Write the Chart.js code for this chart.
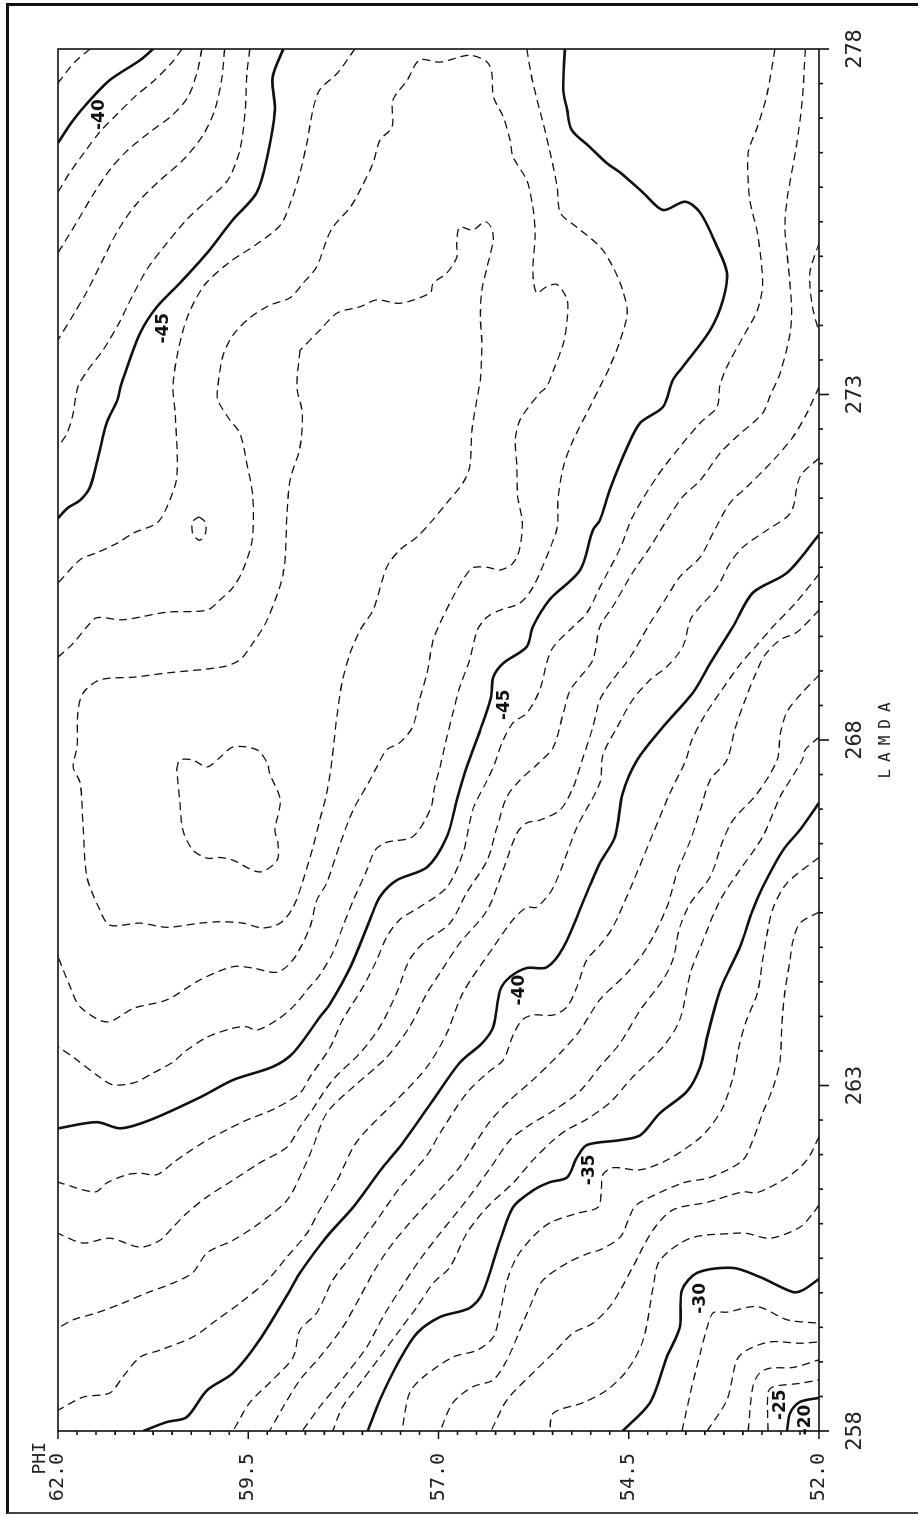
<!DOCTYPE html>
<html>
<head>
<meta charset="utf-8">
<script src="https://cdn.jsdelivr.net/npm/chart.js@4.4.0/dist/chart.umd.min.js"></script>
<style>
html,body{margin:0;padding:0;background:#fff;overflow:hidden;}
#page{position:relative;width:924px;height:1516px;overflow:hidden;background:#fff;}
#wrap{position:absolute;left:0;top:0;width:1516px;height:924px;transform-origin:0 0;transform:translate(0,1516px) rotate(-90deg);}
#frame{position:absolute;left:6px;top:3px;width:912px;height:1511px;box-sizing:border-box;border-left:3px solid #111;border-top:3px solid #111;border-bottom:2px solid #444;}
</style>
</head>
<body>
<div id="page">
  <div id="wrap"><canvas id="c" width="1516" height="924"></canvas></div>
  <div id="frame"></div>
</div>
<script>
// axis tick labels
const lamLabels = [258, 263, 268, 273, 278];
const phiLabels = [52.0, 54.5, 57.0, 59.5, 62.0];

// contour lines, [LAMDA, PHI] pairs
const c39a = [[278,61.58],[277.81,61.78],[277.51,62]];
const c40a = [[278,60.75],[277.84,60.92],[277.55,61.32],[277.26,61.58],[276.97,61.8],[276.64,62]];
const c41a = [[278,60.37],[277.81,60.5],[277.55,60.73],[277.31,60.99],[277.07,61.21],[276.8,61.45],[276.51,61.65],[276.22,61.84],[275.93,62]];
const c42a = [[278,60.11],[277.67,60.17],[277.31,60.29],[277.04,60.5],[276.8,60.79],[276.54,61.08],[276.25,61.32],[275.89,61.54],[275.5,61.75],[275.05,62]];
const c43a = [[278,59.81],[277.55,59.85],[277.12,59.94],[276.76,60.09],[276.39,60.36],[276.1,60.66],[275.77,60.96],[275.38,61.21],[274.95,61.41],[274.51,61.61],[274.15,61.8],[273.79,62]];
const c44a = [[278,59.48],[277.62,59.52],[277.12,59.54],[276.54,59.61],[276.1,59.77],[275.82,60.03],[275.53,60.31],[275.19,60.57],[274.83,60.82],[274.41,61.03],[274.01,61.21],[273.64,61.41],[273.35,61.61],[273.11,61.74],[272.73,61.8],[272.44,61.88],[272.24,62]];
const c45a = [[278,59.04],[277.59,59.18],[277.12,59.15],[276.44,59.25],[275.92,59.39],[275.53,59.7],[275.05,60.04],[274.61,60.4],[274.27,60.7],[273.89,60.92],[273.4,61.09],[273.11,61.18],[272.92,61.22],[272.59,61.36],[272.1,61.47],[271.66,61.58],[271.47,61.71],[271.36,61.87],[271.21,62]];
const c46a = [[278,58.1],[277.65,58.33],[277.41,58.56],[277.12,58.65],[276.64,58.73],[276.21,58.82],[275.82,58.93],[275.45,59.08],[275.16,59.41],[274.92,59.74],[274.59,60.07],[274.15,60.29],[273.64,60.42],[273.11,60.49],[272.73,60.46],[271.81,60.44],[271.37,60.57],[271.14,60.7],[271,61],[270.85,61.22],[270.71,61.49],[270.61,61.71],[270.27,62]];
const c47a = [[269.2,62],[269.4,61.8],[269.64,61.62],[269.77,61.49],[269.74,61.15],[269.85,60.57],[269.88,60.04],[270.03,59.87],[270.21,59.7],[270.46,59.57],[270.89,59.45],[271.52,59.44],[272.01,59.52],[272.44,59.61],[272.63,59.74],[272.92,59.9],[273.11,59.9],[273.57,59.83],[273.86,59.7],[274.11,59.48],[274.29,59.22],[274.4,58.95],[274.61,58.78],[274.85,58.6],[275.24,58.47],[275.42,58.39],[275.71,58.16],[275.96,58.03],[276.35,57.86],[276.68,57.77],[276.87,57.61],[277.26,57.6],[277.55,57.41],[277.84,57.25],[277.81,56.98],[277.91,56.59],[277.81,56.36],[277.65,56.3],[277.31,56.28],[277.02,56.15],[276.68,56.06],[276.44,56.02],[276.1,55.84],[275.71,55.76],[275.34,55.73],[274.76,55.76],[274.47,55.71],[274.56,55.58],[274.59,55.44],[274.37,55.31],[274.08,55.31],[273.74,55.36],[273.35,55.49],[273.11,55.58],[273.02,55.67],[272.63,55.93],[272.34,55.99],[271.95,55.97],[271.52,55.96],[271.18,55.9],[270.79,55.93],[270.56,56.02],[270.46,56.19],[270.5,56.36],[270.49,56.55],[270.32,56.68],[270.07,56.81],[269.69,56.98],[269.45,57.07],[268.97,57.15],[268.58,57.25],[268.19,57.34],[267.96,57.51],[267.86,57.68],[267.61,57.81],[267.42,57.9],[266.99,58.12],[266.51,58.29],[265.93,58.47],[265.68,58.6],[265.29,58.69],[264.82,58.91],[264.64,59.12],[264.7,59.44],[264.72,59.7],[264.53,60.13],[264.24,60.57],[264.12,61],[263.92,61.36],[264.14,61.71],[264.43,61.84],[264.86,62]];
const c47b = [[271.23,60.15],[271.16,60.07],[271,60.06],[270.89,60.14],[270.99,60.23],[271.16,60.23],[271.23,60.15]];
const c48a = [[273.64,58.82],[273.11,58.86],[272.73,58.79],[272.24,58.82],[271.76,58.95],[271.28,58.99],[270.42,59.04],[269.74,59.25],[269.4,59.44],[269.16,59.61],[269.06,59.83],[268.97,60.57],[268.91,61],[268.87,61.45],[268.68,61.67],[268.39,61.74],[267.9,61.75],[267.61,61.8],[267.38,61.71],[266.74,61.67],[266.02,61.62],[265.54,61.45],[265.32,61.32],[265.35,60.92],[265.29,60.57],[265.35,60.13],[265.37,59.87],[265.35,59.57],[265.28,59.31],[265.35,59.08],[265.58,58.91],[265.97,58.78],[266.45,58.65],[266.84,58.56],[267.23,58.47],[267.71,58.4],[268.39,58.33],[268.87,58.26],[269.26,58.16],[269.59,58.03],[269.88,57.86],[270.5,57.68],[270.75,57.51],[270.94,57.28],[271.14,57.11],[271.43,56.89],[271.72,56.68],[271.95,56.59],[272.49,56.56],[272.96,56.49],[273.21,56.45],[273.74,56.43],[274.12,56.45],[274.51,56.43],[274.85,56.36],[275.24,56.28],[275.42,56.31],[275.5,56.39],[275.38,56.55],[275.42,56.72],[275.19,56.76],[274.99,56.76],[274.76,56.89],[274.61,57.07],[274.47,57.11],[274.32,57.51],[274.37,57.81],[274.27,58.03],[274.18,58.33],[273.93,58.56],[273.64,58.82]];
const c49a = [[267.57,60.44],[267.71,60.4],[267.71,60.23],[267.61,60.04],[267.75,59.87],[267.9,59.7],[267.86,59.39],[267.67,59.25],[267.52,59.22],[267.13,59.08],[266.7,59.15],[266.51,59.11],[266.26,59.12],[266.09,59.35],[266.26,59.7],[266.3,59.87],[266.29,60.04],[266.41,60.23],[266.7,60.36],[267.13,60.4],[267.57,60.44]];
const c46b = [[278,55.84],[277.51,55.76],[277.12,55.67],[276.54,55.54],[276,55.44],[275.63,55.4],[275.42,55.18],[275.14,54.88],[274.85,54.71],[274.51,54.58],[274.18,54.52],[273.79,54.61],[273.4,54.75],[273.11,54.88],[272.82,55.01],[272.34,55.23],[271.95,55.36],[271.47,55.43],[271.08,55.44],[270.65,55.58],[270.21,55.76],[269.98,55.93],[269.88,56.19],[269.78,56.36],[269.59,56.49],[269.16,56.59],[268.77,56.72],[268.39,56.81],[268.04,56.89],[267.61,56.98],[267.32,57.05],[266.99,57.11],[266.6,57.34],[266.52,57.68],[266.41,57.83],[266.12,57.94],[265.68,58.12],[265.29,58.26],[264.92,58.39],[264.6,58.56],[264.43,58.69],[264.14,58.91],[263.95,59.12],[263.8,59.39],[263.85,59.52],[263.83,59.7],[263.7,60.04],[263.51,60.31],[263.34,60.49],[263.18,60.75],[263.04,61],[263.01,61.28],[263.12,61.45],[263.41,61.8],[263.56,62]];
const c45b = [[278,55.34],[277.41,55.36],[277.12,55.31],[276.83,55.25],[276.58,55.01],[276.35,54.79],[276.21,54.61],[275.92,54.31],[275.67,54.05],[275.79,53.76],[275.63,53.56],[275.14,53.34],[274.76,53.21],[274.37,53.26],[273.93,53.43],[273.4,53.79],[273.21,53.92],[272.82,54.05],[272.59,54.35],[272.24,54.52],[271.62,54.75],[271.18,54.88],[271.04,54.97],[270.46,55.14],[270.03,55.54],[269.64,55.76],[269.35,55.84],[269.11,56.15],[268.91,56.28],[268.62,56.31],[268.15,56.45],[267.61,56.63],[267.13,56.76],[266.6,56.89],[266.16,57.15],[265.97,57.55],[265.73,57.77],[265.4,57.9],[264.71,58.16],[264.19,58.42],[263.99,58.56],[263.47,58.91],[263.27,59.18],[263.08,59.7],[262.83,60.13],[262.5,60.79],[262.38,61.18],[262.47,61.49],[262.38,62]];
const c44b = [[278,52.58],[277.36,52.68],[276.87,52.81],[276.5,52.93],[275.82,52.91],[275.34,52.81],[274.61,52.74],[274.22,52.81],[273.83,53],[273.4,53.21],[273.14,53.3],[272.82,53.34],[272.59,53.56],[272.24,53.83],[271.81,54.13],[271.23,54.45],[270.78,54.61],[270.21,54.88],[269.84,55.05],[269.64,55.23],[269.35,55.49],[269.11,55.58],[268.72,55.67],[268.39,55.84],[268.25,56.02],[268,56.15],[267.61,56.28],[267.42,56.36],[266.99,56.55],[266.36,56.68],[265.87,56.89],[265.58,57.25],[265.4,57.51],[265.15,57.68],[264.82,57.81],[264.43,57.99],[263.95,58.26],[263.56,58.42],[263.12,58.69],[262.89,58.82],[262.65,59.18],[262.5,59.52],[262.36,59.78],[262.21,60.04],[262.02,60.31],[261.88,60.49],[261.71,60.7],[261.73,60.92],[261.71,61.09],[261.59,61.36],[261.46,61.51],[261.6,62]];
const c43b = [[278,52.18],[277.26,52.22],[276.64,52.29],[275.82,52.42],[275.42,52.45],[275.05,52.42],[274.27,52.36],[273.89,52.38],[273.31,52.51],[272.99,52.64],[272.73,52.74],[272.39,53.08],[272.15,53.3],[271.76,53.56],[271.52,53.79],[271.18,54],[270.79,54.22],[270.42,54.45],[269.93,54.71],[269.64,54.88],[269.16,54.97],[268.91,55.14],[268.72,55.27],[268.39,55.36],[267.9,55.49],[267.64,55.71],[267.42,55.93],[267.18,56.1],[266.74,56.23],[266.26,56.36],[265.79,56.63],[265.35,56.85],[265.06,57.2],[264.82,57.38],[264.34,57.55],[263.85,57.77],[263.47,58.03],[263.08,58.39],[262.6,58.69],[262.4,58.82],[262.11,58.99],[261.88,59.35],[261.63,59.7],[261.39,60.04],[261.15,60.31],[260.95,60.49],[260.76,60.66],[260.66,60.92],[260.79,61.32],[260.72,61.67],[260.86,62]];
const c42b = [[275.19,52],[274.76,52.12],[274.29,52.09],[273.9,52]];
const c42c = [[273.11,52],[272.73,52.16],[272.39,52.34],[272.05,52.6],[271.66,52.95],[271.43,53.17],[271,53.39],[270.65,53.56],[270.36,53.83],[270.07,54],[269.69,54.22],[269.2,54.48],[268.87,54.71],[268.58,54.88],[268.19,54.97],[267.75,55.1],[267.32,55.23],[266.99,55.4],[266.84,55.67],[266.8,55.84],[266.65,55.97],[266.12,56.15],[265.54,56.36],[265.06,56.72],[264.63,56.98],[264.34,57.15],[263.85,57.38],[263.41,57.68],[262.98,58.12],[262.6,58.47],[262.11,58.65],[261.78,58.78],[261.34,58.99],[261.01,59.35],[260.76,59.7],[260.58,60.04],[260.29,60.23],[260.14,60.49],[260,60.83],[259.85,61.15],[259.71,61.49],[259.61,61.8],[259.49,62]];
const c41b = [[272.08,52],[271.81,52.25],[271.37,52.34],[271.23,52.42],[271.04,52.68],[270.79,53],[270.56,53.17],[270.21,53.34],[269.88,53.6],[269.74,53.69],[269.35,53.79],[269.06,54],[268.87,54.22],[268.58,54.45],[268.19,54.65],[267.78,54.84],[267.38,54.88],[266.74,55.18],[265.87,55.49],[265.58,55.71],[265.58,55.84],[265.4,56.02],[265,56.28],[264.34,56.68],[263.76,56.89],[263.27,57.15],[262.79,57.55],[262.36,57.94],[262.11,58.12],[261.63,58.33],[261.2,58.56],[260.86,58.73],[260.52,58.99],[260.18,59.25],[259.85,59.61],[259.61,59.91],[259.36,60.23],[259.17,60.66],[259.07,60.92],[258.78,61.15],[258.55,61.32],[258.49,61.67],[258.3,62]];
const c40b = [[270.97,52],[270.42,52.42],[270.13,52.87],[269.64,53.13],[269.11,53.43],[268.68,53.66],[268.19,54.05],[267.71,54.39],[267.23,54.58],[266.6,54.68],[266.22,54.88],[265.79,55.05],[265,55.36],[264.71,55.58],[264.7,55.84],[264.57,56.06],[264.38,56.19],[263.85,56.28],[263.62,56.42],[263.33,56.72],[262.79,57.07],[262.11,57.51],[261.82,57.73],[261.24,58.12],[260.81,58.47],[260.29,58.82],[260.04,58.95],[259.32,59.35],[258.84,59.7],[258.59,60.04],[258.2,60.31],[258.13,60.57],[258,60.88]];
const c39b = [[270.4,52],[269.98,52.31],[269.67,52.58],[269.38,52.81],[269.09,53.04],[268.72,53.28],[268.36,53.5],[268,53.67],[267.71,53.75],[267.23,53.96],[266.65,54.18],[265.93,54.45],[265.29,54.71],[265.03,54.88],[264.82,55.05],[264.43,55.18],[264.14,55.31],[264.02,55.49],[264.02,55.76],[263.95,55.9],[263.73,56.02],[263.37,56.15],[263.18,56.36],[262.89,56.63],[262.31,56.98],[261.99,57.15],[261.52,57.51],[261.05,57.81],[260.52,58.16],[260.18,58.39],[259.71,58.6],[259.46,58.82],[259.07,58.91],[258.74,59.18],[258.41,59.48],[258,59.7]];
const c38b = [[269.88,52],[269.56,52.29],[269.45,52.51],[269.23,52.71],[268.94,52.84],[268.58,52.97],[268.18,53.1],[267.71,53.21],[267.42,53.43],[266.99,53.56],[266.55,53.69],[266.07,53.87],[265.58,54],[265,54.26],[264.63,54.52],[264.24,54.88],[263.8,55.14],[263.47,55.4],[263.08,55.76],[262.79,56.06],[262.5,56.31],[262.21,56.49],[261.82,56.72],[261.39,57.07],[261.01,57.38],[260.66,57.64],[260.29,57.86],[259.94,58.03],[259.5,58.26],[259.07,58.56],[258.74,58.82],[258.35,59.04],[258,59.22]];
const c37b = [[268.94,52],[268.65,52.25],[268.41,52.42],[268.07,52.51],[267.71,52.55],[267.23,52.81],[266.84,53.13],[266.55,53.26],[266.02,53.43],[265.64,53.69],[265.29,53.83],[264.82,53.92],[264.53,54.05],[264.09,54.35],[263.62,54.61],[263.27,54.88],[262.92,55.14],[262.65,55.47],[262.43,55.8],[262.21,56.06],[261.82,56.31],[261.34,56.63],[260.86,56.98],[260.47,57.25],[260.04,57.51],[259.65,57.73],[259.22,57.94],[258.84,58.2],[258.35,58.56],[258,58.79]];
const c36b = [[268.04,52],[267.86,52.18],[267.71,52.22],[267.18,52.51],[266.6,52.74],[266.12,53.04],[265.68,53.3],[265,53.56],[264.63,53.69],[263.95,53.83],[263.56,54.05],[263.12,54.45],[262.75,54.75],[262.5,55.07],[262.36,55.31],[262.21,55.49],[261.92,55.76],[261.59,56.02],[261.24,56.36],[260.86,56.63],[260.37,56.85],[260.14,57.07],[259.8,57.28],[259.46,57.51],[259.07,57.77],[258.69,58.03],[258.35,58.26],[258,58.39]];
const c35b = [[267.09,52],[266.7,52.25],[266.41,52.47],[265.87,52.74],[265.54,52.87],[265,53.04],[264.49,53.26],[264.24,53.34],[263.7,53.47],[263.27,53.56],[262.92,53.73],[262.6,54.09],[262.28,54.35],[262.21,54.61],[262.14,55.05],[261.96,55.18],[261.67,55.31],[261.6,55.54],[261.48,55.76],[261.24,56.02],[260.76,56.19],[260,56.42],[259.78,56.59],[259.65,56.98],[259.42,57.28],[259.03,57.51],[258.45,57.77],[258,57.93]];
const c34b = [[266.3,52],[265.93,52.42],[265.58,52.6],[265.21,52.68],[264.82,52.74],[264.34,52.81],[263.95,52.95],[263.62,53.04],[263.12,53.13],[262.69,53.26],[262.4,53.43],[262.21,53.6],[261.92,54],[261.78,54.35],[261.81,54.71],[261.71,54.84],[261.49,54.86],[261.24,54.9],[261.15,55.18],[261.01,55.54],[260.81,55.76],[260.52,55.97],[260.18,56.1],[259.71,56.19],[259.36,56.28],[259.17,56.49],[259.07,56.81],[258.78,57.2],[258.55,57.38],[258,57.48]];
const c33b = [[265.51,52],[265.35,52.25],[265.1,52.34],[264.82,52.38],[264.34,52.45],[263.85,52.49],[263.37,52.51],[262.98,52.6],[262.6,52.74],[262.21,52.87],[261.92,53],[261.67,53.43],[261.59,53.79],[261.31,54.35],[261.2,54.45],[260.81,54.61],[260.62,54.88],[260.58,55.01],[260.43,55.31],[260.18,55.63],[259.9,55.76],[259.46,55.93],[259.03,56.1],[258.74,56.28],[258.64,56.55],[258.41,56.81],[258,56.98]];
const c32b = [[262.26,52],[261.92,52.16],[261.67,52.42],[261.45,52.81],[261.46,53],[261.31,53.47],[261.2,53.92],[260.91,54.18],[260.37,54.45],[260.04,54.61],[259.8,54.75],[259.56,54.97],[259.42,55.23],[259.13,55.49],[258.84,55.76],[258.45,56.1],[258,56.31]];
const c31b = [[261.27,52],[261.15,52.08],[260.95,52.25],[260.79,52.64],[260.86,52.95],[260.86,53.13],[260.79,53.69],[260.47,54.09],[260.08,54.18],[259.32,54.31],[258.88,54.52],[258.59,54.79],[258.41,55.1],[258.26,55.49],[258,55.54]];
const c30b = [[258,54.58],[258.41,54.22],[259.07,54],[259.5,53.83],[260.04,53.8],[260.29,53.6],[260.36,53.13],[260.23,52.78],[260.01,52.34],[260.04,52.21],[260.2,52]];
const c29b = [[258,53.8],[258.55,53.69],[259.13,53.56],[259.5,53.47],[259.71,53.39],[259.72,53.21],[259.8,52.81],[259.61,52.42],[259.56,52]];
const c28b = [[258,53.47],[258.45,53.21],[259.03,53.08],[259.17,52.95],[259.29,52.64],[259.27,52.25],[259.29,52]];
const c27b = [[258,52.93],[258.64,52.87],[258.84,52.78],[258.91,52.64],[258.92,52.34],[259.03,52]];
const c26b = [[258,52.67],[258.55,52.67],[258.64,52.6],[258.69,52.25],[258.74,52]];
const c25b = [[258,52.42],[258.26,52.38],[258.42,52.25],[258.48,52]];

// contour value labels
const labelText = ['-40', '-45', '-45', '-40', '-35', '-30', '-25', '-20'];
const labelLam = [277.05, 273.96, 268.51, 264.38, 261.78, 259.92, 258.38, 258.16];
const labelPhi = [61.46, 60.61, 56.13, 55.93, 55.01, 53.56, 52.51, 52.17];

const contours = [
  [-39, c39a], [-40, c40a], [-41, c41a], [-42, c42a], [-43, c43a], [-44, c44a], [-45, c45a], [-46, c46a],
  [-47, c47a], [-47, c47b], [-48, c48a], [-49, c49a],
  [-46, c46b], [-45, c45b], [-44, c44b], [-43, c43b], [-42, c42b], [-42, c42c], [-41, c41b], [-40, c40b],
  [-39, c39b], [-38, c38b], [-37, c37b], [-36, c36b], [-35, c35b], [-34, c34b], [-33, c33b], [-32, c32b],
  [-31, c31b], [-30, c30b], [-29, c29b], [-28, c28b], [-27, c27b], [-26, c26b], [-25, c25b]
];

const datasets = contours.map(([lev, pts]) => {
  const major = lev % 5 === 0;
  return {
    label: String(lev),
    data: pts.map(p => ({x: p[0], y: p[1]})),
    showLine: true,
    pointRadius: 0,
    borderColor: '#111',
    borderWidth: major ? 2.6 : 1.3,
    borderDash: major ? [] : [8, 5],
    tension: 0.3,
    fill: false
  };
});

const decor = {
  id: 'decor',
  afterDatasetsDraw(chart) {
    const {ctx, chartArea: ca, scales: {x, y}} = chart;
    ctx.save();
    ctx.strokeStyle = '#111';
    ctx.lineWidth = 1.6;
    ctx.strokeRect(ca.left, ca.top, ca.right - ca.left, ca.bottom - ca.top);
    ctx.beginPath();
    x.ticks.forEach(t => {
      const px = x.getPixelForValue(t.value);
      const len = lamLabels.includes(t.value) ? 10 : 4;
      ctx.moveTo(px, ca.bottom); ctx.lineTo(px, ca.bottom + len);
    });
    y.ticks.forEach(t => {
      const py = y.getPixelForValue(t.value);
      const len = phiLabels.includes(t.value) ? 8 : 4;
      ctx.moveTo(ca.left, py); ctx.lineTo(ca.left - len, py);
    });
    ctx.stroke();

    ctx.fillStyle = '#111';
    ctx.textAlign = 'center';
    ctx.textBaseline = 'middle';
    ctx.font = 'bold 17px "DejaVu Sans"';
    labelText.forEach((t, i) => {
      ctx.fillText(t, x.getPixelForValue(labelLam[i]), y.getPixelForValue(labelPhi[i]));
    });

    ctx.fillStyle = '#222';
    ctx.font = '16px "DejaVu Sans Mono"';
    ctx.letterSpacing = '7px';
    ctx.fillText('LAMDA', (ca.left + ca.right) / 2 + 3, 886);
    ctx.letterSpacing = '0px';
    ctx.textAlign = 'right';
    ctx.font = '18px "DejaVu Sans Mono"';
    ctx.fillText('PHI', 74, 40);
    ctx.restore();
  }
};

new Chart(document.getElementById('c'), {
  type: 'scatter',
  data: {datasets},
  options: {
    responsive: false,
    animation: false,
    events: [],
    layout: {padding: {left: 0, right: 49, top: 58, bottom: 0}},
    plugins: {legend: {display: false}, tooltip: {enabled: false}},
    scales: {
      x: {
        type: 'linear', position: 'bottom', min: 258, max: 278,
        afterFit: s => { s.height = 105; },
        grid: {display: false}, border: {display: false},
        ticks: {
          stepSize: 0.5, autoSkip: false, maxRotation: 0, minRotation: 0, padding: 15,
          color: '#222', font: {family: 'DejaVu Sans Mono', size: 22},
          callback: v => lamLabels.includes(v) ? String(v) : ''
        }
      },
      y: {
        type: 'linear', position: 'left', min: 52, max: 62,
        afterFit: s => { s.width = 85; },
        grid: {display: false}, border: {display: false},
        ticks: {
          stepSize: 0.25, autoSkip: false, padding: 14,
          color: '#222', font: {family: 'DejaVu Sans Mono', size: 20},
          callback: v => phiLabels.includes(v) ? v.toFixed(1) : ''
        }
      }
    }
  },
  plugins: [decor]
});
</script>
</body>
</html>
